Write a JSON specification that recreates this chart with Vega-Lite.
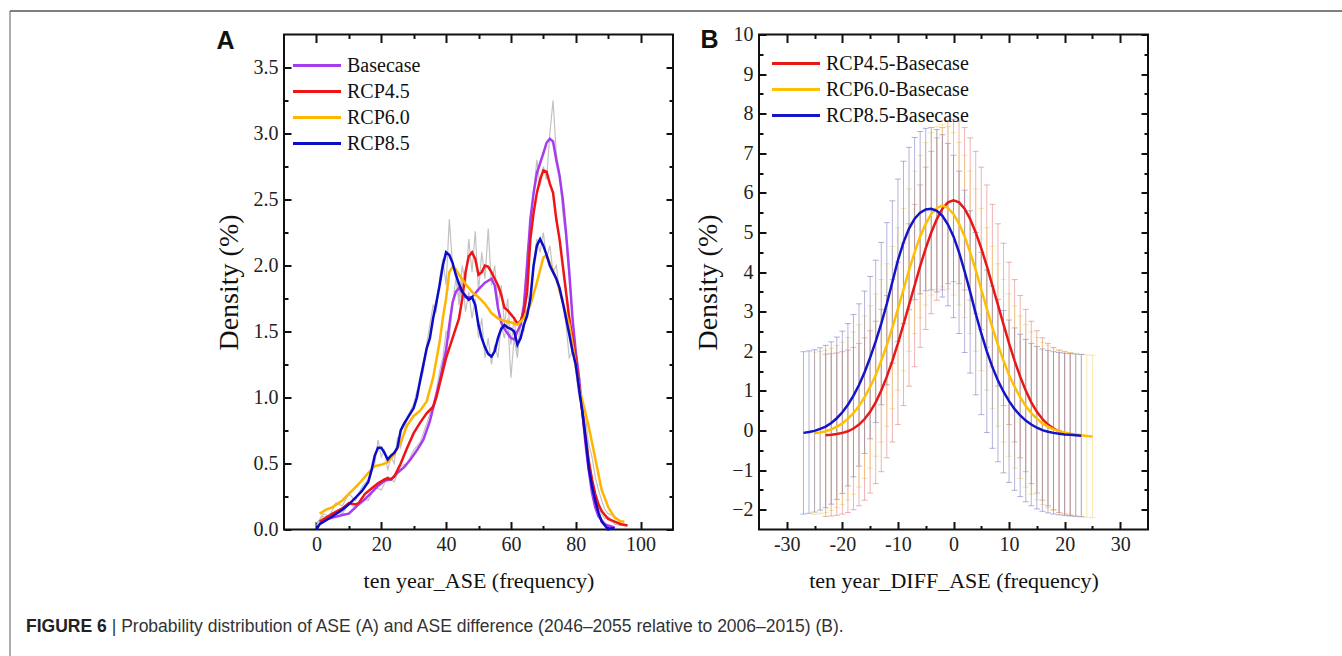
{
"$schema": "https://vega.github.io/schema/vega-lite/v6.json",
"background": "white",
"padding": {"left": 6.5, "top": 9.5, "right": 0, "bottom": 0},
"config": {
  "view": {"stroke": "#111", "strokeWidth": 2},
  "axis": {"labelFont": "Liberation Serif", "labelFontSize": 20, "labelColor": "#222", "titleFont": "Liberation Serif", "titleFontWeight": "normal", "titleColor": "#111", "domain": false, "grid": false, "tickColor": "#111", "tickWidth": 2, "labelFlush": false, "labelOverlap": false, "labelBound": false},
  "legend": {"orient": "none", "title": null, "symbolType": "M-6,0H6", "symbolSize": 64, "symbolStrokeWidth": 3, "labelFont": "Liberation Serif", "labelFontSize": 20, "labelColor": "#111", "rowPadding": 6, "labelOffset": 20}
},
"datasets": {
  "frame": [{"v": 0}, {"v": 1}],
  "af": [
{"s":"Basecase","x":1,"y":0.05},{"s":"Basecase","x":2,"y":0.07},{"s":"Basecase","x":5,"y":0.09},{"s":"Basecase","x":8,"y":0.11},{"s":"Basecase","x":10,"y":0.12},{"s":"Basecase","x":13,"y":0.19},{"s":"Basecase","x":15,"y":0.23},{"s":"Basecase","x":17,"y":0.28},{"s":"Basecase","x":19,"y":0.33},{"s":"Basecase","x":21,"y":0.37},{"s":"Basecase","x":23,"y":0.38},{"s":"Basecase","x":25,"y":0.43},{"s":"Basecase","x":27,"y":0.47},{"s":"Basecase","x":29,"y":0.53},{"s":"Basecase","x":31,"y":0.6},{"s":"Basecase","x":33,"y":0.68},{"s":"Basecase","x":35,"y":0.82},{"s":"Basecase","x":36,"y":0.92},{"s":"Basecase","x":38,"y":1.12},{"s":"Basecase","x":40,"y":1.36},{"s":"Basecase","x":41,"y":1.55},{"s":"Basecase","x":42,"y":1.72},{"s":"Basecase","x":43,"y":1.8},{"s":"Basecase","x":44,"y":1.83},{"s":"Basecase","x":45,"y":1.8},{"s":"Basecase","x":46,"y":1.76},{"s":"Basecase","x":48,"y":1.76},{"s":"Basecase","x":50,"y":1.82},{"s":"Basecase","x":52,"y":1.87},{"s":"Basecase","x":54,"y":1.9},{"s":"Basecase","x":55,"y":1.85},{"s":"Basecase","x":56,"y":1.68},{"s":"Basecase","x":57,"y":1.57},{"s":"Basecase","x":58,"y":1.52},{"s":"Basecase","x":60,"y":1.45},{"s":"Basecase","x":61,"y":1.44},{"s":"Basecase","x":62,"y":1.5},{"s":"Basecase","x":63,"y":1.55},{"s":"Basecase","x":64,"y":1.7},{"s":"Basecase","x":65,"y":2.0},{"s":"Basecase","x":66,"y":2.35},{"s":"Basecase","x":67,"y":2.55},{"s":"Basecase","x":68,"y":2.7},{"s":"Basecase","x":70,"y":2.85},{"s":"Basecase","x":71,"y":2.93},{"s":"Basecase","x":72,"y":2.96},{"s":"Basecase","x":73,"y":2.94},{"s":"Basecase","x":74,"y":2.8},{"s":"Basecase","x":75,"y":2.68},{"s":"Basecase","x":76,"y":2.5},{"s":"Basecase","x":77,"y":2.25},{"s":"Basecase","x":78,"y":1.95},{"s":"Basecase","x":79,"y":1.6},{"s":"Basecase","x":80,"y":1.35},{"s":"Basecase","x":81,"y":1.15},{"s":"Basecase","x":82,"y":0.9},{"s":"Basecase","x":83,"y":0.65},{"s":"Basecase","x":84,"y":0.45},{"s":"Basecase","x":85,"y":0.28},{"s":"Basecase","x":86,"y":0.17},{"s":"Basecase","x":87,"y":0.1},{"s":"Basecase","x":88,"y":0.07},{"s":"Basecase","x":89,"y":0.04},{"s":"Basecase","x":90,"y":0.03},{"s":"Basecase","x":92,"y":0.015},
{"s":"RCP4.5","x":1,"y":0.06},{"s":"RCP4.5","x":3,"y":0.09},{"s":"RCP4.5","x":5,"y":0.12},{"s":"RCP4.5","x":8,"y":0.16},{"s":"RCP4.5","x":10,"y":0.2},{"s":"RCP4.5","x":12,"y":0.19},{"s":"RCP4.5","x":13,"y":0.2},{"s":"RCP4.5","x":15,"y":0.27},{"s":"RCP4.5","x":17,"y":0.31},{"s":"RCP4.5","x":19,"y":0.35},{"s":"RCP4.5","x":21,"y":0.38},{"s":"RCP4.5","x":22,"y":0.39},{"s":"RCP4.5","x":23,"y":0.38},{"s":"RCP4.5","x":24,"y":0.4},{"s":"RCP4.5","x":26,"y":0.5},{"s":"RCP4.5","x":28,"y":0.62},{"s":"RCP4.5","x":30,"y":0.73},{"s":"RCP4.5","x":32,"y":0.81},{"s":"RCP4.5","x":34,"y":0.88},{"s":"RCP4.5","x":36,"y":0.93},{"s":"RCP4.5","x":37,"y":1.0},{"s":"RCP4.5","x":38,"y":1.1},{"s":"RCP4.5","x":40,"y":1.3},{"s":"RCP4.5","x":42,"y":1.45},{"s":"RCP4.5","x":44,"y":1.6},{"s":"RCP4.5","x":45,"y":1.75},{"s":"RCP4.5","x":46,"y":1.95},{"s":"RCP4.5","x":47,"y":2.07},{"s":"RCP4.5","x":48,"y":2.1},{"s":"RCP4.5","x":49,"y":2.05},{"s":"RCP4.5","x":50,"y":1.93},{"s":"RCP4.5","x":51,"y":1.95},{"s":"RCP4.5","x":52,"y":2.0},{"s":"RCP4.5","x":53,"y":1.99},{"s":"RCP4.5","x":54,"y":1.95},{"s":"RCP4.5","x":55,"y":1.9},{"s":"RCP4.5","x":56,"y":1.85},{"s":"RCP4.5","x":57,"y":1.78},{"s":"RCP4.5","x":58,"y":1.68},{"s":"RCP4.5","x":59,"y":1.66},{"s":"RCP4.5","x":60,"y":1.63},{"s":"RCP4.5","x":61,"y":1.6},{"s":"RCP4.5","x":62,"y":1.56},{"s":"RCP4.5","x":63,"y":1.58},{"s":"RCP4.5","x":64,"y":1.65},{"s":"RCP4.5","x":65,"y":1.8},{"s":"RCP4.5","x":66,"y":2.2},{"s":"RCP4.5","x":67,"y":2.4},{"s":"RCP4.5","x":68,"y":2.55},{"s":"RCP4.5","x":69,"y":2.65},{"s":"RCP4.5","x":70,"y":2.72},{"s":"RCP4.5","x":71,"y":2.71},{"s":"RCP4.5","x":72,"y":2.62},{"s":"RCP4.5","x":73,"y":2.55},{"s":"RCP4.5","x":74,"y":2.35},{"s":"RCP4.5","x":75,"y":2.2},{"s":"RCP4.5","x":76,"y":2.0},{"s":"RCP4.5","x":77,"y":1.8},{"s":"RCP4.5","x":78,"y":1.6},{"s":"RCP4.5","x":79,"y":1.45},{"s":"RCP4.5","x":80,"y":1.3},{"s":"RCP4.5","x":81,"y":1.1},{"s":"RCP4.5","x":82,"y":0.9},{"s":"RCP4.5","x":83,"y":0.7},{"s":"RCP4.5","x":84,"y":0.52},{"s":"RCP4.5","x":85,"y":0.38},{"s":"RCP4.5","x":86,"y":0.27},{"s":"RCP4.5","x":87,"y":0.19},{"s":"RCP4.5","x":88,"y":0.14},{"s":"RCP4.5","x":89,"y":0.11},{"s":"RCP4.5","x":90,"y":0.08},{"s":"RCP4.5","x":92,"y":0.06},{"s":"RCP4.5","x":94,"y":0.04},{"s":"RCP4.5","x":96,"y":0.03},
{"s":"RCP6.0","x":1,"y":0.12},{"s":"RCP6.0","x":3,"y":0.15},{"s":"RCP6.0","x":5,"y":0.17},{"s":"RCP6.0","x":8,"y":0.22},{"s":"RCP6.0","x":10,"y":0.27},{"s":"RCP6.0","x":12,"y":0.32},{"s":"RCP6.0","x":14,"y":0.37},{"s":"RCP6.0","x":16,"y":0.43},{"s":"RCP6.0","x":18,"y":0.48},{"s":"RCP6.0","x":20,"y":0.49},{"s":"RCP6.0","x":22,"y":0.51},{"s":"RCP6.0","x":24,"y":0.57},{"s":"RCP6.0","x":26,"y":0.66},{"s":"RCP6.0","x":28,"y":0.79},{"s":"RCP6.0","x":30,"y":0.86},{"s":"RCP6.0","x":32,"y":0.9},{"s":"RCP6.0","x":34,"y":0.97},{"s":"RCP6.0","x":36,"y":1.15},{"s":"RCP6.0","x":38,"y":1.42},{"s":"RCP6.0","x":39,"y":1.6},{"s":"RCP6.0","x":40,"y":1.75},{"s":"RCP6.0","x":41,"y":1.95},{"s":"RCP6.0","x":42,"y":1.99},{"s":"RCP6.0","x":43,"y":1.97},{"s":"RCP6.0","x":44,"y":1.93},{"s":"RCP6.0","x":46,"y":1.86},{"s":"RCP6.0","x":48,"y":1.8},{"s":"RCP6.0","x":50,"y":1.76},{"s":"RCP6.0","x":52,"y":1.71},{"s":"RCP6.0","x":54,"y":1.64},{"s":"RCP6.0","x":56,"y":1.6},{"s":"RCP6.0","x":58,"y":1.58},{"s":"RCP6.0","x":60,"y":1.57},{"s":"RCP6.0","x":62,"y":1.55},{"s":"RCP6.0","x":64,"y":1.6},{"s":"RCP6.0","x":66,"y":1.7},{"s":"RCP6.0","x":68,"y":1.87},{"s":"RCP6.0","x":70,"y":2.06},{"s":"RCP6.0","x":71,"y":2.08},{"s":"RCP6.0","x":72,"y":2.02},{"s":"RCP6.0","x":74,"y":1.9},{"s":"RCP6.0","x":76,"y":1.72},{"s":"RCP6.0","x":78,"y":1.55},{"s":"RCP6.0","x":80,"y":1.25},{"s":"RCP6.0","x":81,"y":1.08},{"s":"RCP6.0","x":82,"y":0.98},{"s":"RCP6.0","x":84,"y":0.78},{"s":"RCP6.0","x":86,"y":0.54},{"s":"RCP6.0","x":88,"y":0.3},{"s":"RCP6.0","x":90,"y":0.17},{"s":"RCP6.0","x":92,"y":0.09},{"s":"RCP6.0","x":94,"y":0.06},{"s":"RCP6.0","x":95,"y":0.06},
{"s":"RCP8.5","x":0,"y":0.0},{"s":"RCP8.5","x":1,"y":0.04},{"s":"RCP8.5","x":3,"y":0.07},{"s":"RCP8.5","x":5,"y":0.1},{"s":"RCP8.5","x":8,"y":0.15},{"s":"RCP8.5","x":10,"y":0.19},{"s":"RCP8.5","x":12,"y":0.24},{"s":"RCP8.5","x":14,"y":0.29},{"s":"RCP8.5","x":16,"y":0.36},{"s":"RCP8.5","x":17,"y":0.45},{"s":"RCP8.5","x":18,"y":0.56},{"s":"RCP8.5","x":19,"y":0.62},{"s":"RCP8.5","x":20,"y":0.62},{"s":"RCP8.5","x":21,"y":0.58},{"s":"RCP8.5","x":22,"y":0.53},{"s":"RCP8.5","x":23,"y":0.56},{"s":"RCP8.5","x":24,"y":0.58},{"s":"RCP8.5","x":25,"y":0.62},{"s":"RCP8.5","x":26,"y":0.75},{"s":"RCP8.5","x":27,"y":0.8},{"s":"RCP8.5","x":28,"y":0.84},{"s":"RCP8.5","x":30,"y":0.92},{"s":"RCP8.5","x":31,"y":1.0},{"s":"RCP8.5","x":32,"y":1.13},{"s":"RCP8.5","x":34,"y":1.37},{"s":"RCP8.5","x":35,"y":1.45},{"s":"RCP8.5","x":36,"y":1.6},{"s":"RCP8.5","x":37,"y":1.72},{"s":"RCP8.5","x":38,"y":1.85},{"s":"RCP8.5","x":39,"y":2.0},{"s":"RCP8.5","x":40,"y":2.1},{"s":"RCP8.5","x":41,"y":2.08},{"s":"RCP8.5","x":42,"y":2.02},{"s":"RCP8.5","x":43,"y":1.93},{"s":"RCP8.5","x":44,"y":1.86},{"s":"RCP8.5","x":45,"y":1.8},{"s":"RCP8.5","x":46,"y":1.77},{"s":"RCP8.5","x":47,"y":1.74},{"s":"RCP8.5","x":48,"y":1.76},{"s":"RCP8.5","x":49,"y":1.7},{"s":"RCP8.5","x":50,"y":1.55},{"s":"RCP8.5","x":51,"y":1.45},{"s":"RCP8.5","x":52,"y":1.38},{"s":"RCP8.5","x":53,"y":1.33},{"s":"RCP8.5","x":54,"y":1.31},{"s":"RCP8.5","x":55,"y":1.35},{"s":"RCP8.5","x":56,"y":1.45},{"s":"RCP8.5","x":57,"y":1.52},{"s":"RCP8.5","x":58,"y":1.55},{"s":"RCP8.5","x":59,"y":1.53},{"s":"RCP8.5","x":60,"y":1.52},{"s":"RCP8.5","x":61,"y":1.5},{"s":"RCP8.5","x":62,"y":1.4},{"s":"RCP8.5","x":63,"y":1.45},{"s":"RCP8.5","x":64,"y":1.55},{"s":"RCP8.5","x":65,"y":1.62},{"s":"RCP8.5","x":66,"y":1.75},{"s":"RCP8.5","x":67,"y":2.0},{"s":"RCP8.5","x":68,"y":2.15},{"s":"RCP8.5","x":69,"y":2.2},{"s":"RCP8.5","x":70,"y":2.15},{"s":"RCP8.5","x":71,"y":2.08},{"s":"RCP8.5","x":72,"y":2.0},{"s":"RCP8.5","x":73,"y":1.95},{"s":"RCP8.5","x":74,"y":1.9},{"s":"RCP8.5","x":75,"y":1.83},{"s":"RCP8.5","x":76,"y":1.72},{"s":"RCP8.5","x":77,"y":1.6},{"s":"RCP8.5","x":78,"y":1.48},{"s":"RCP8.5","x":79,"y":1.35},{"s":"RCP8.5","x":80,"y":1.25},{"s":"RCP8.5","x":81,"y":1.07},{"s":"RCP8.5","x":82,"y":0.9},{"s":"RCP8.5","x":83,"y":0.7},{"s":"RCP8.5","x":84,"y":0.47},{"s":"RCP8.5","x":85,"y":0.33},{"s":"RCP8.5","x":86,"y":0.22},{"s":"RCP8.5","x":87,"y":0.13},{"s":"RCP8.5","x":88,"y":0.06},{"s":"RCP8.5","x":89,"y":0.03},{"s":"RCP8.5","x":90,"y":0.0},{"s":"RCP8.5","x":91,"y":0.01},{"s":"RCP8.5","x":92,"y":0.01}
  ],
  "ar": [
{"s":"g1","x":0,"y":0.05},{"s":"g1","x":2,"y":0.1},{"s":"g1","x":4,"y":0.08},{"s":"g1","x":6,"y":0.14},{"s":"g1","x":8,"y":0.12},{"s":"g1","x":10,"y":0.2},{"s":"g1","x":12,"y":0.16},{"s":"g1","x":14,"y":0.24},{"s":"g1","x":16,"y":0.22},{"s":"g1","x":18,"y":0.32},{"s":"g1","x":20,"y":0.3},{"s":"g1","x":22,"y":0.4},{"s":"g1","x":24,"y":0.36},{"s":"g1","x":26,"y":0.48},{"s":"g1","x":28,"y":0.5},{"s":"g1","x":30,"y":0.6},{"s":"g1","x":32,"y":0.66},{"s":"g1","x":34,"y":0.8},{"s":"g1","x":36,"y":0.95},{"s":"g1","x":37,"y":1.05},{"s":"g1","x":38,"y":1.2},{"s":"g1","x":39,"y":1.3},{"s":"g1","x":40,"y":1.5},{"s":"g1","x":41,"y":1.45},{"s":"g1","x":42,"y":1.7},{"s":"g1","x":43,"y":1.9},{"s":"g1","x":44,"y":1.75},{"s":"g1","x":45,"y":2.0},{"s":"g1","x":46,"y":1.85},{"s":"g1","x":47,"y":2.2},{"s":"g1","x":48,"y":1.95},{"s":"g1","x":49,"y":2.26},{"s":"g1","x":50,"y":1.8},{"s":"g1","x":51,"y":2.1},{"s":"g1","x":52,"y":1.9},{"s":"g1","x":53,"y":2.28},{"s":"g1","x":54,"y":1.85},{"s":"g1","x":55,"y":2.0},{"s":"g1","x":56,"y":1.7},{"s":"g1","x":57,"y":1.85},{"s":"g1","x":58,"y":1.55},{"s":"g1","x":59,"y":1.75},{"s":"g1","x":60,"y":1.4},{"s":"g1","x":61,"y":1.6},{"s":"g1","x":62,"y":1.35},{"s":"g1","x":63,"y":1.55},{"s":"g1","x":64,"y":1.7},{"s":"g1","x":65,"y":2.1},{"s":"g1","x":66,"y":2.3},{"s":"g1","x":67,"y":2.55},{"s":"g1","x":68,"y":2.8},{"s":"g1","x":69,"y":2.6},{"s":"g1","x":70,"y":2.75},{"s":"g1","x":71,"y":2.65},{"s":"g1","x":72,"y":3.0},{"s":"g1","x":73,"y":3.25},{"s":"g1","x":74,"y":2.85},{"s":"g1","x":75,"y":2.7},{"s":"g1","x":76,"y":2.4},{"s":"g1","x":77,"y":2.2},{"s":"g1","x":78,"y":1.9},{"s":"g1","x":79,"y":1.6},{"s":"g1","x":80,"y":1.35},{"s":"g1","x":81,"y":1.2},{"s":"g1","x":82,"y":0.95},{"s":"g1","x":83,"y":0.9},{"s":"g1","x":84,"y":0.55},{"s":"g1","x":85,"y":0.4},{"s":"g1","x":86,"y":0.25},{"s":"g1","x":87,"y":0.15},{"s":"g1","x":88,"y":0.12},{"s":"g1","x":89,"y":0.08},{"s":"g1","x":90,"y":0.1},{"s":"g1","x":92,"y":0.04},{"s":"g1","x":94,"y":0.03},
{"s":"g2","x":0,"y":0.03},{"s":"g2","x":2,"y":0.12},{"s":"g2","x":4,"y":0.1},{"s":"g2","x":6,"y":0.2},{"s":"g2","x":8,"y":0.18},{"s":"g2","x":10,"y":0.27},{"s":"g2","x":12,"y":0.22},{"s":"g2","x":14,"y":0.32},{"s":"g2","x":16,"y":0.38},{"s":"g2","x":18,"y":0.5},{"s":"g2","x":19,"y":0.68},{"s":"g2","x":20,"y":0.55},{"s":"g2","x":21,"y":0.6},{"s":"g2","x":22,"y":0.45},{"s":"g2","x":23,"y":0.55},{"s":"g2","x":24,"y":0.5},{"s":"g2","x":25,"y":0.7},{"s":"g2","x":26,"y":0.62},{"s":"g2","x":28,"y":0.85},{"s":"g2","x":30,"y":0.95},{"s":"g2","x":31,"y":1.05},{"s":"g2","x":32,"y":1.1},{"s":"g2","x":33,"y":1.2},{"s":"g2","x":34,"y":1.4},{"s":"g2","x":35,"y":1.55},{"s":"g2","x":36,"y":1.7},{"s":"g2","x":37,"y":1.65},{"s":"g2","x":38,"y":1.9},{"s":"g2","x":39,"y":2.05},{"s":"g2","x":40,"y":1.85},{"s":"g2","x":41,"y":2.35},{"s":"g2","x":42,"y":2.0},{"s":"g2","x":43,"y":1.95},{"s":"g2","x":44,"y":1.7},{"s":"g2","x":45,"y":1.9},{"s":"g2","x":46,"y":1.65},{"s":"g2","x":47,"y":1.8},{"s":"g2","x":48,"y":1.6},{"s":"g2","x":49,"y":1.75},{"s":"g2","x":50,"y":1.45},{"s":"g2","x":51,"y":1.6},{"s":"g2","x":52,"y":1.3},{"s":"g2","x":53,"y":1.45},{"s":"g2","x":54,"y":1.25},{"s":"g2","x":55,"y":1.4},{"s":"g2","x":56,"y":1.3},{"s":"g2","x":57,"y":1.55},{"s":"g2","x":58,"y":1.45},{"s":"g2","x":59,"y":1.6},{"s":"g2","x":60,"y":1.15},{"s":"g2","x":61,"y":1.45},{"s":"g2","x":62,"y":1.3},{"s":"g2","x":63,"y":1.6},{"s":"g2","x":64,"y":1.5},{"s":"g2","x":65,"y":1.8},{"s":"g2","x":66,"y":1.7},{"s":"g2","x":67,"y":2.0},{"s":"g2","x":68,"y":2.2},{"s":"g2","x":69,"y":2.1},{"s":"g2","x":70,"y":2.25},{"s":"g2","x":71,"y":2.05},{"s":"g2","x":72,"y":2.15},{"s":"g2","x":73,"y":1.95},{"s":"g2","x":74,"y":2.0},{"s":"g2","x":75,"y":1.8},{"s":"g2","x":76,"y":1.75},{"s":"g2","x":77,"y":1.55},{"s":"g2","x":78,"y":1.3},{"s":"g2","x":79,"y":1.35},{"s":"g2","x":80,"y":1.2},{"s":"g2","x":81,"y":1.0},{"s":"g2","x":82,"y":0.95},{"s":"g2","x":83,"y":0.8},{"s":"g2","x":84,"y":0.65},{"s":"g2","x":85,"y":0.55},{"s":"g2","x":86,"y":0.4},{"s":"g2","x":87,"y":0.3},{"s":"g2","x":88,"y":0.22},{"s":"g2","x":89,"y":0.15},{"s":"g2","x":90,"y":0.12},{"s":"g2","x":92,"y":0.1},{"s":"g2","x":93,"y":0.08}
  ],
  "bf": [
{"s":"RCP4.5-Basecase","x":-23,"y":-0.12,"e":2.05},{"s":"RCP4.5-Basecase","x":-22,"y":-0.11,"e":2.05},{"s":"RCP4.5-Basecase","x":-21,"y":-0.09,"e":2.05},{"s":"RCP4.5-Basecase","x":-20,"y":-0.06,"e":2.05},{"s":"RCP4.5-Basecase","x":-19,"y":-0.02,"e":2.05},{"s":"RCP4.5-Basecase","x":-18,"y":0.05,"e":2.05},{"s":"RCP4.5-Basecase","x":-17,"y":0.15,"e":2.05},{"s":"RCP4.5-Basecase","x":-16,"y":0.29,"e":2.05},{"s":"RCP4.5-Basecase","x":-15,"y":0.47,"e":2.05},{"s":"RCP4.5-Basecase","x":-14,"y":0.71,"e":2.05},{"s":"RCP4.5-Basecase","x":-13,"y":1.01,"e":2.05},{"s":"RCP4.5-Basecase","x":-12,"y":1.36,"e":2.05},{"s":"RCP4.5-Basecase","x":-11,"y":1.76,"e":2.05},{"s":"RCP4.5-Basecase","x":-10,"y":2.2,"e":2.05},{"s":"RCP4.5-Basecase","x":-9,"y":2.68,"e":2.05},{"s":"RCP4.5-Basecase","x":-8,"y":3.17,"e":2.05},{"s":"RCP4.5-Basecase","x":-7,"y":3.66,"e":2.05},{"s":"RCP4.5-Basecase","x":-6,"y":4.15,"e":2.05},{"s":"RCP4.5-Basecase","x":-5,"y":4.6,"e":2.05},{"s":"RCP4.5-Basecase","x":-4,"y":5.0,"e":2.05},{"s":"RCP4.5-Basecase","x":-3,"y":5.34,"e":2.05},{"s":"RCP4.5-Basecase","x":-2,"y":5.6,"e":2.05},{"s":"RCP4.5-Basecase","x":-1,"y":5.76,"e":2.05},{"s":"RCP4.5-Basecase","x":0,"y":5.81,"e":2.05},{"s":"RCP4.5-Basecase","x":1,"y":5.76,"e":2.05},{"s":"RCP4.5-Basecase","x":2,"y":5.6,"e":2.05},{"s":"RCP4.5-Basecase","x":3,"y":5.34,"e":2.05},{"s":"RCP4.5-Basecase","x":4,"y":5.0,"e":2.05},{"s":"RCP4.5-Basecase","x":5,"y":4.6,"e":2.05},{"s":"RCP4.5-Basecase","x":6,"y":4.15,"e":2.05},{"s":"RCP4.5-Basecase","x":7,"y":3.66,"e":2.05},{"s":"RCP4.5-Basecase","x":8,"y":3.17,"e":2.05},{"s":"RCP4.5-Basecase","x":9,"y":2.68,"e":2.05},{"s":"RCP4.5-Basecase","x":10,"y":2.2,"e":2.05},{"s":"RCP4.5-Basecase","x":11,"y":1.76,"e":2.05},{"s":"RCP4.5-Basecase","x":12,"y":1.36,"e":2.05},{"s":"RCP4.5-Basecase","x":13,"y":1.01,"e":2.05},{"s":"RCP4.5-Basecase","x":14,"y":0.71,"e":2.05},{"s":"RCP4.5-Basecase","x":15,"y":0.47,"e":2.05},{"s":"RCP4.5-Basecase","x":16,"y":0.29,"e":2.05},{"s":"RCP4.5-Basecase","x":17,"y":0.15,"e":2.05},{"s":"RCP4.5-Basecase","x":18,"y":0.05,"e":2.05},{"s":"RCP4.5-Basecase","x":19,"y":-0.02,"e":2.05},{"s":"RCP4.5-Basecase","x":20,"y":-0.06,"e":2.05},{"s":"RCP4.5-Basecase","x":21,"y":-0.09,"e":2.05},
{"s":"RCP6.0-Basecase","x":-25,"y":-0.07,"e":2.05},{"s":"RCP6.0-Basecase","x":-24,"y":-0.05,"e":2.05},{"s":"RCP6.0-Basecase","x":-23,"y":-0.02,"e":2.05},{"s":"RCP6.0-Basecase","x":-22,"y":0.03,"e":2.05},{"s":"RCP6.0-Basecase","x":-21,"y":0.1,"e":2.05},{"s":"RCP6.0-Basecase","x":-20,"y":0.18,"e":2.05},{"s":"RCP6.0-Basecase","x":-19,"y":0.3,"e":2.05},{"s":"RCP6.0-Basecase","x":-18,"y":0.44,"e":2.05},{"s":"RCP6.0-Basecase","x":-17,"y":0.62,"e":2.05},{"s":"RCP6.0-Basecase","x":-16,"y":0.84,"e":2.05},{"s":"RCP6.0-Basecase","x":-15,"y":1.1,"e":2.05},{"s":"RCP6.0-Basecase","x":-14,"y":1.4,"e":2.05},{"s":"RCP6.0-Basecase","x":-13,"y":1.76,"e":2.05},{"s":"RCP6.0-Basecase","x":-12,"y":2.16,"e":2.05},{"s":"RCP6.0-Basecase","x":-11,"y":2.6,"e":2.05},{"s":"RCP6.0-Basecase","x":-10,"y":3.07,"e":2.05},{"s":"RCP6.0-Basecase","x":-9,"y":3.56,"e":2.05},{"s":"RCP6.0-Basecase","x":-8,"y":4.05,"e":2.05},{"s":"RCP6.0-Basecase","x":-7,"y":4.5,"e":2.05},{"s":"RCP6.0-Basecase","x":-6,"y":4.9,"e":2.05},{"s":"RCP6.0-Basecase","x":-5,"y":5.22,"e":2.05},{"s":"RCP6.0-Basecase","x":-4,"y":5.47,"e":2.05},{"s":"RCP6.0-Basecase","x":-3,"y":5.62,"e":2.05},{"s":"RCP6.0-Basecase","x":-2,"y":5.68,"e":2.05},{"s":"RCP6.0-Basecase","x":-1,"y":5.62,"e":2.05},{"s":"RCP6.0-Basecase","x":0,"y":5.47,"e":2.05},{"s":"RCP6.0-Basecase","x":1,"y":5.22,"e":2.05},{"s":"RCP6.0-Basecase","x":2,"y":4.9,"e":2.05},{"s":"RCP6.0-Basecase","x":3,"y":4.5,"e":2.05},{"s":"RCP6.0-Basecase","x":4,"y":4.05,"e":2.05},{"s":"RCP6.0-Basecase","x":5,"y":3.56,"e":2.05},{"s":"RCP6.0-Basecase","x":6,"y":3.07,"e":2.05},{"s":"RCP6.0-Basecase","x":7,"y":2.6,"e":2.05},{"s":"RCP6.0-Basecase","x":8,"y":2.16,"e":2.05},{"s":"RCP6.0-Basecase","x":9,"y":1.76,"e":2.05},{"s":"RCP6.0-Basecase","x":10,"y":1.4,"e":2.05},{"s":"RCP6.0-Basecase","x":11,"y":1.1,"e":2.05},{"s":"RCP6.0-Basecase","x":12,"y":0.84,"e":2.05},{"s":"RCP6.0-Basecase","x":13,"y":0.62,"e":2.05},{"s":"RCP6.0-Basecase","x":14,"y":0.44,"e":2.05},{"s":"RCP6.0-Basecase","x":15,"y":0.3,"e":2.05},{"s":"RCP6.0-Basecase","x":16,"y":0.18,"e":2.05},{"s":"RCP6.0-Basecase","x":17,"y":0.1,"e":2.05},{"s":"RCP6.0-Basecase","x":18,"y":0.03,"e":2.05},{"s":"RCP6.0-Basecase","x":19,"y":-0.02,"e":2.05},{"s":"RCP6.0-Basecase","x":20,"y":-0.05,"e":2.05},{"s":"RCP6.0-Basecase","x":21,"y":-0.08,"e":2.05},{"s":"RCP6.0-Basecase","x":22,"y":-0.1,"e":2.05},{"s":"RCP6.0-Basecase","x":23,"y":-0.12,"e":2.05},{"s":"RCP6.0-Basecase","x":24,"y":-0.14,"e":2.05},{"s":"RCP6.0-Basecase","x":25,"y":-0.15,"e":2.05},
{"s":"RCP8.5-Basecase","x":-27,"y":-0.06,"e":2.05},{"s":"RCP8.5-Basecase","x":-26,"y":-0.04,"e":2.05},{"s":"RCP8.5-Basecase","x":-25,"y":-0.01,"e":2.05},{"s":"RCP8.5-Basecase","x":-24,"y":0.04,"e":2.05},{"s":"RCP8.5-Basecase","x":-23,"y":0.1,"e":2.05},{"s":"RCP8.5-Basecase","x":-22,"y":0.19,"e":2.05},{"s":"RCP8.5-Basecase","x":-21,"y":0.31,"e":2.05},{"s":"RCP8.5-Basecase","x":-20,"y":0.46,"e":2.05},{"s":"RCP8.5-Basecase","x":-19,"y":0.65,"e":2.05},{"s":"RCP8.5-Basecase","x":-18,"y":0.88,"e":2.05},{"s":"RCP8.5-Basecase","x":-17,"y":1.15,"e":2.05},{"s":"RCP8.5-Basecase","x":-16,"y":1.47,"e":2.05},{"s":"RCP8.5-Basecase","x":-15,"y":1.84,"e":2.05},{"s":"RCP8.5-Basecase","x":-14,"y":2.25,"e":2.05},{"s":"RCP8.5-Basecase","x":-13,"y":2.7,"e":2.05},{"s":"RCP8.5-Basecase","x":-12,"y":3.2,"e":2.05},{"s":"RCP8.5-Basecase","x":-11,"y":3.75,"e":2.05},{"s":"RCP8.5-Basecase","x":-10,"y":4.3,"e":2.05},{"s":"RCP8.5-Basecase","x":-9,"y":4.75,"e":2.05},{"s":"RCP8.5-Basecase","x":-8,"y":5.1,"e":2.05},{"s":"RCP8.5-Basecase","x":-7,"y":5.35,"e":2.05},{"s":"RCP8.5-Basecase","x":-6,"y":5.5,"e":2.05},{"s":"RCP8.5-Basecase","x":-5,"y":5.58,"e":2.05},{"s":"RCP8.5-Basecase","x":-4,"y":5.6,"e":2.05},{"s":"RCP8.5-Basecase","x":-3,"y":5.55,"e":2.05},{"s":"RCP8.5-Basecase","x":-2,"y":5.42,"e":2.05},{"s":"RCP8.5-Basecase","x":-1,"y":5.2,"e":2.05},{"s":"RCP8.5-Basecase","x":0,"y":4.9,"e":2.05},{"s":"RCP8.5-Basecase","x":1,"y":4.5,"e":2.05},{"s":"RCP8.5-Basecase","x":2,"y":4.02,"e":2.05},{"s":"RCP8.5-Basecase","x":3,"y":3.5,"e":2.05},{"s":"RCP8.5-Basecase","x":4,"y":2.95,"e":2.05},{"s":"RCP8.5-Basecase","x":5,"y":2.45,"e":2.05},{"s":"RCP8.5-Basecase","x":6,"y":2.0,"e":2.05},{"s":"RCP8.5-Basecase","x":7,"y":1.6,"e":2.05},{"s":"RCP8.5-Basecase","x":8,"y":1.26,"e":2.05},{"s":"RCP8.5-Basecase","x":9,"y":0.98,"e":2.05},{"s":"RCP8.5-Basecase","x":10,"y":0.74,"e":2.05},{"s":"RCP8.5-Basecase","x":11,"y":0.54,"e":2.05},{"s":"RCP8.5-Basecase","x":12,"y":0.38,"e":2.05},{"s":"RCP8.5-Basecase","x":13,"y":0.25,"e":2.05},{"s":"RCP8.5-Basecase","x":14,"y":0.15,"e":2.05},{"s":"RCP8.5-Basecase","x":15,"y":0.07,"e":2.05},{"s":"RCP8.5-Basecase","x":16,"y":0.01,"e":2.05},{"s":"RCP8.5-Basecase","x":17,"y":-0.03,"e":2.05},{"s":"RCP8.5-Basecase","x":18,"y":-0.06,"e":2.05},{"s":"RCP8.5-Basecase","x":19,"y":-0.08,"e":2.05},{"s":"RCP8.5-Basecase","x":20,"y":-0.1,"e":2.05},{"s":"RCP8.5-Basecase","x":21,"y":-0.11,"e":2.05},{"s":"RCP8.5-Basecase","x":22,"y":-0.12,"e":2.05},{"s":"RCP8.5-Basecase","x":23,"y":-0.13,"e":2.05}
  ]
},
"spacing": 273.5,
"bounds": "flush",
"resolve": {"scale": {"color": "independent", "x": "independent", "y": "independent"}, "legend": {"color": "independent"}},
"hconcat": [
{
  "width": 1, "height": 621,
  "view": {"stroke": null},
  "data": {"name": "frame"},
  "mark": {"type": "point", "opacity": 0},
  "encoding": {
    "x": {"field": "v", "type": "quantitative", "scale": {"domain": [0, 1], "nice": false, "range": [0, 1332]},
          "axis": {"orient": "top", "offset": 24, "domain": true, "domainColor": "#555", "domainWidth": 1.5, "labels": false, "title": null, "values": [0], "ticks": true, "tickSize": -24, "tickColor": "#777", "tickWidth": 1.2}},
    "y": {"field": "v", "type": "quantitative", "scale": {"domain": [0, 1], "nice": false},
          "axis": {"orient": "left", "domain": true, "domainColor": "#777", "domainWidth": 1.2, "labels": false, "ticks": false, "title": null}}
  }
},
{
  "spacing": 86,
  "bounds": "flush",
  "resolve": {"scale": {"color": "independent", "x": "independent", "y": "independent"}, "legend": {"color": "independent"}},
  "hconcat": [
  {
    "width": 389, "height": 495,
    "title": {"text": "FIGURE 6", "orient": "bottom", "anchor": "start", "frame": "bounds", "font": "Liberation Sans", "fontSize": 17.5, "fontWeight": "bold", "color": "#222", "dx": -189, "offset": 26, "baseline": "top"},
    "layer": [
      {
        "data": {"name": "ar"},
        "mark": {"type": "line", "color": "#c2c2c2", "strokeWidth": 1.2},
        "encoding": {
          "x": {"field": "x", "type": "quantitative", "scale": {"domain": [-10, 110], "nice": false},
                "axis": {"orient": "top", "labels": false, "title": "A", "titleX": -68, "titleY": 14, "titleAlign": "left", "titleBaseline": "alphabetic", "titleAngle": 0, "titleFont": "Liberation Sans", "titleFontSize": 25, "titleFontWeight": "bold", "values": [0,10,20,30,40,50,60,70,80,90,100], "tickSize": {"condition": {"test": "datum.value % 20 === 0", "value": -8}, "value": -4}}},
          "y": {"field": "y", "type": "quantitative", "scale": {"domain": [0, 3.75], "nice": false},
                "axis": {"orient": "right", "labels": false, "title": null, "values": [0,0.25,0.5,0.75,1,1.25,1.5,1.75,2,2.25,2.5,2.75,3,3.25,3.5], "tickSize": {"condition": {"test": "datum.value % 0.5 === 0", "value": -7}, "value": -4}}},
          "detail": {"field": "s", "type": "nominal"}
        }
      },
      {
        "data": {"name": "af"},
        "mark": {"type": "line", "strokeWidth": 2.5},
        "encoding": {
          "x": {"field": "x", "type": "quantitative", "scale": {"domain": [-10, 110], "nice": false},
                "axis": {"orient": "bottom", "title": "ten year_ASE (frequency)", "titleFontSize": 22, "titlePadding": 12, "values": [0,10,20,30,40,50,60,70,80,90,100], "format": "d", "labelExpr": "datum.value % 20 === 0 ? datum.label : ''", "labelPadding": 13, "tickSize": {"condition": {"test": "datum.value % 20 === 0", "value": -8}, "value": -4}}},
          "y": {"field": "y", "type": "quantitative", "scale": {"domain": [0, 3.75], "nice": false},
                "axis": {"orient": "left", "title": "Density (%)", "titleFontSize": 28, "titlePadding": 10, "values": [0,0.25,0.5,0.75,1,1.25,1.5,1.75,2,2.25,2.5,2.75,3,3.25,3.5], "labelExpr": "datum.value % 0.5 === 0 ? format(datum.value, '.1f') : ''", "labelPadding": 13, "tickSize": {"condition": {"test": "datum.value % 0.5 === 0", "value": -7}, "value": -4}}},
          "color": {"field": "s", "type": "nominal", "scale": {"domain": ["Basecase", "RCP4.5", "RCP6.0", "RCP8.5"], "range": ["#a63cf0", "#f01414", "#ffb400", "#0b0bc8"]},
                    "legend": {"legendX": 23, "legendY": 21, "symbolType": "M-6,0H6", "symbolSize": 64}}
        }
      }
    ]
  },
  {
    "width": 389, "height": 495,
    "title": {"text": "| Probability distribution of ASE (A) and ASE difference (2046–2055 relative to 2006–2015) (B).", "orient": "bottom", "anchor": "start", "frame": "bounds", "font": "Liberation Sans", "fontSize": 17.5, "fontWeight": "normal", "color": "#333", "dx": -583, "offset": 26, "baseline": "top"},
    "data": {"name": "bf"},
    "resolve": {"scale": {"color": "independent"}, "legend": {"color": "independent"}},
    "layer": [
      {
        "mark": {"type": "errorbar", "ticks": {"size": 6, "strokeWidth": 1, "opacity": 0.5}, "rule": {"strokeWidth": 1, "opacity": 0.5}},
        "encoding": {
          "x": {"field": "x", "type": "quantitative", "scale": {"domain": [-35, 35], "nice": false},
                "axis": {"orient": "top", "labels": false, "title": "B", "titleX": -59, "titleY": 13, "titleAlign": "left", "titleBaseline": "alphabetic", "titleAngle": 0, "titleFont": "Liberation Sans", "titleFontSize": 25, "titleFontWeight": "bold", "values": [-30,-25,-20,-15,-10,-5,0,5,10,15,20,25,30], "tickSize": {"condition": {"test": "datum.value % 10 === 0", "value": -8}, "value": -4}}},
          "y": {"field": "y", "type": "quantitative", "scale": {"domain": [-2.5, 10], "nice": false},
                "axis": {"orient": "right", "labels": false, "title": null, "values": [-2,-1.5,-1,-0.5,0,0.5,1,1.5,2,2.5,3,3.5,4,4.5,5,5.5,6,6.5,7,7.5,8,8.5,9,9.5,10], "tickSize": {"condition": {"test": "datum.value % 1 === 0", "value": -7}, "value": -4}}},
          "yError": {"field": "e"},
          "color": {"field": "s", "type": "nominal", "scale": {"domain": ["RCP4.5-Basecase", "RCP6.0-Basecase", "RCP8.5-Basecase"], "range": ["#e06a6a", "#f2d060", "#6a6ab8"]}, "legend": null}
        }
      },
      {
        "mark": {"type": "line", "strokeWidth": 2.5},
        "encoding": {
          "x": {"field": "x", "type": "quantitative", "scale": {"domain": [-35, 35], "nice": false},
                "axis": {"orient": "bottom", "title": "ten year_DIFF_ASE (frequency)", "titleFontSize": 22, "titlePadding": 12, "values": [-30,-25,-20,-15,-10,-5,0,5,10,15,20,25,30], "labelExpr": "datum.value % 10 === 0 ? '' + datum.value : ''", "labelPadding": 13, "tickSize": {"condition": {"test": "datum.value % 10 === 0", "value": -8}, "value": -4}}},
          "y": {"field": "y", "type": "quantitative", "scale": {"domain": [-2.5, 10], "nice": false},
                "axis": {"orient": "left", "title": "Density (%)", "titleFontSize": 28, "titlePadding": 9, "values": [-2,-1.5,-1,-0.5,0,0.5,1,1.5,2,2.5,3,3.5,4,4.5,5,5.5,6,6.5,7,7.5,8,8.5,9,9.5,10], "labelExpr": "datum.value % 1 === 0 ? format(datum.value, 'd') : ''", "labelPadding": 13, "tickSize": {"condition": {"test": "datum.value % 1 === 0", "value": -7}, "value": -4}}},
          "color": {"field": "s", "type": "nominal", "scale": {"domain": ["RCP4.5-Basecase", "RCP6.0-Basecase", "RCP8.5-Basecase"], "range": ["#e81818", "#ffc000", "#1414c8"]},
                    "legend": {"legendX": 27, "legendY": 19, "symbolType": "M-6,0H6", "symbolSize": 64}}
        }
      }
    ]
  }
  ]
}
]
}
